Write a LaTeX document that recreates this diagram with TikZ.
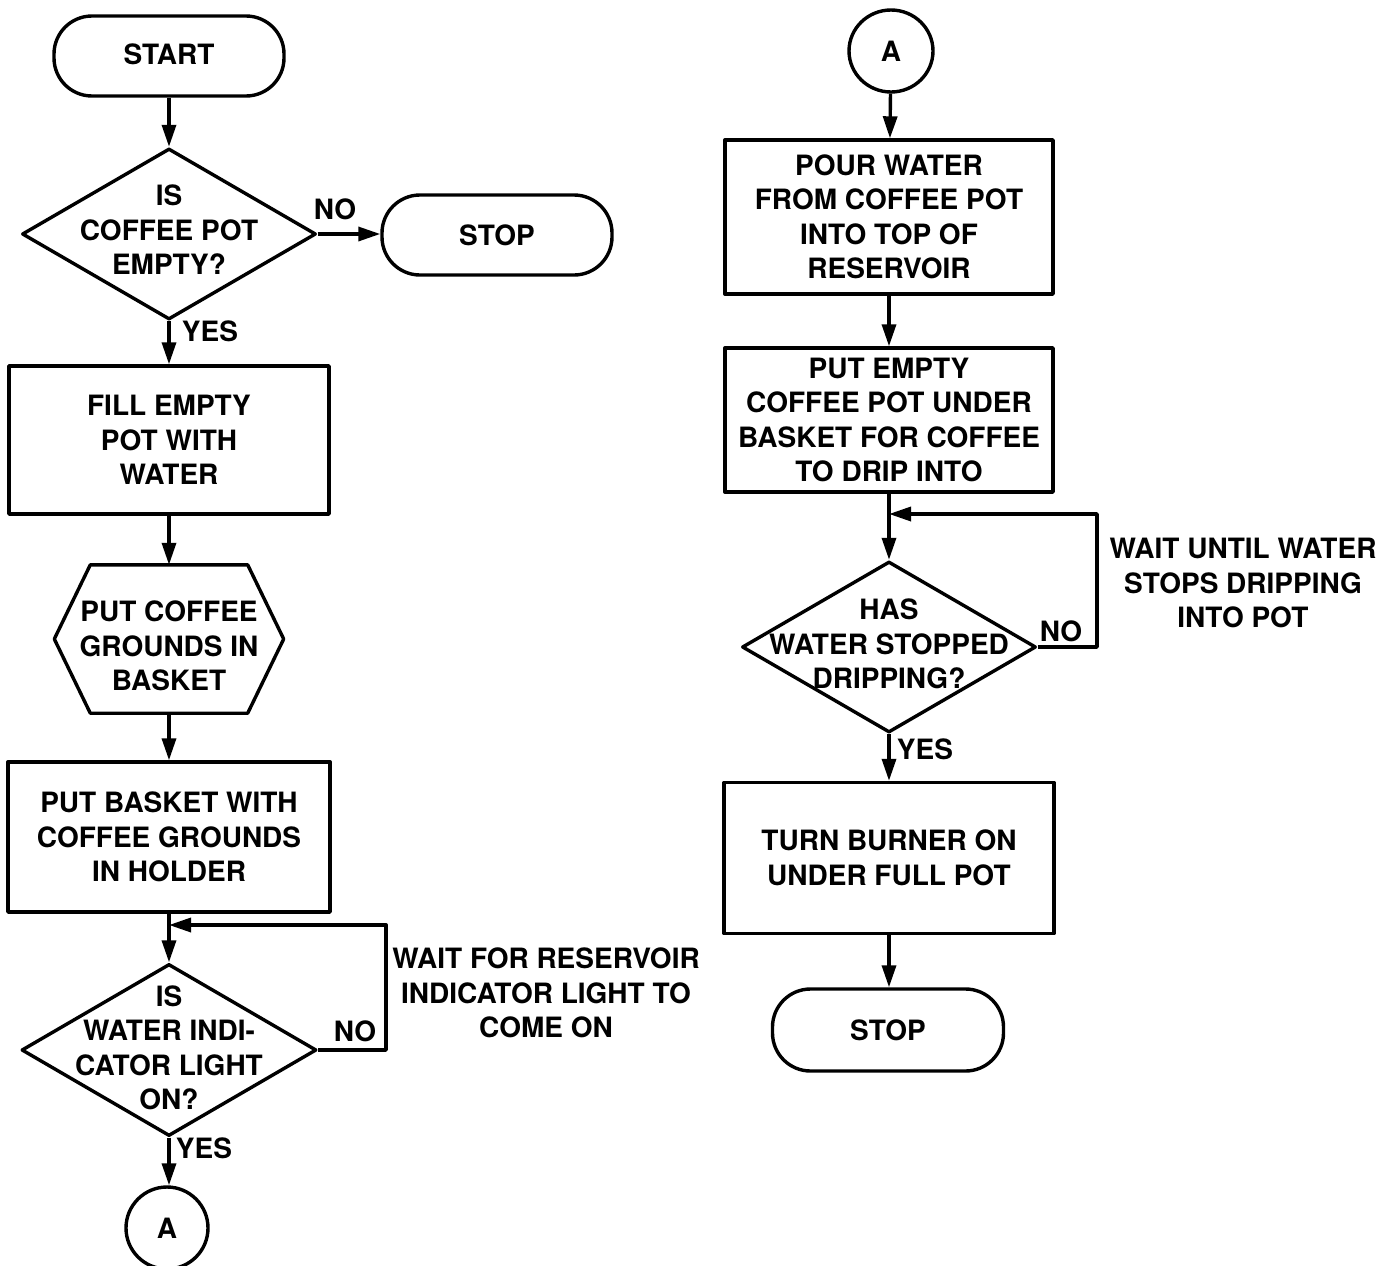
\documentclass[tikz,border=0pt]{standalone}
\usepackage{fontspec}
\setmainfont{TeX Gyre Heros}
\usetikzlibrary{arrows.meta,shapes.geometric,calc}
\begin{document}
\begin{tikzpicture}[x=1pt,y=-1pt,
  every node/.style={font=\fontsize{28}{34.5}\selectfont\bfseries, align=center, inner sep=0pt},
  ln/.style={line width=3.4pt, line join=round},
  arr/.style={ln, -{Triangle[length=22pt,width=14pt]}},
  term/.style={draw, ln, rectangle, rounded corners=38pt, minimum width=230pt, minimum height=80pt},
  procbox/.style={draw, ln, rectangle},
  dia/.style={draw, ln, diamond, minimum width=294pt, minimum height=171pt},
  conn/.style={draw, ln, ellipse, minimum width=82pt, minimum height=82pt}
]
\useasboundingbox (0,0) rectangle (1398,1266);

% ---------- left column ----------
\node[term] (start) at (169,56) {};
\node (startt) at (169,54) {START};
\node[dia] (d1) at (169,234) {};
\node (d1t) at (169,230) {IS\\COFFEE POT\\EMPTY?};
\node[term] (stop1) at (497,235) {STOP};
\node[procbox, minimum width=320pt, minimum height=148pt] (fill) at (169,440) {FILL EMPTY\\POT WITH\\WATER};
\node[minimum width=229pt, minimum height=148pt] (hex) at (169,639) {};
\node (hext) at (169,646) {PUT COFFEE\\GROUNDS IN\\BASKET};
\draw[ln] (hex.west) -- ($(hex.north west)+(36,0)$) -- ($(hex.north east)+(-36,0)$) -- (hex.east)
  -- ($(hex.south east)+(-36,0)$) -- ($(hex.south west)+(36,0)$) -- cycle;
\node[procbox, minimum width=322pt, minimum height=150pt] (basket) at (169,837) {PUT BASKET WITH\\COFFEE GROUNDS\\IN HOLDER};
\node[dia, minimum width=295pt, minimum height=172pt] (d2) at (169,1050) {};
\node (d2t) at (169,1048) {IS\\WATER INDI-\\CATOR LIGHT\\ON?};
\node[conn] (a1) at (167,1228) {A};
\coordinate (c1) at (386,925);

\draw[arr] (start) -- (d1);
\draw[arr] (d1.east) -- (d1.east -| stop1.west);
\draw[arr] (d1) -- (fill);
\draw[arr] (fill) -- (hex.north);
\draw[arr] (hex.south) -- (basket);
\draw[arr] (basket) -- (d2);
\draw[arr] (d2.east) -| (c1) -- (basket.south |- c1);
\draw[arr] (d2.south) -- (d2.south |- a1.north);

\node (no1) at (335,209) {NO};
\node (yes1) at (210,331) {YES};
\node (no2) at (355,1031) {NO};
\node (yes2) at (204,1148) {YES};
\node (w1) at (546,993) {WAIT FOR RESERVOIR\\INDICATOR LIGHT TO\\COME ON};

% ---------- right column ----------
\node[conn, minimum width=84pt, minimum height=82pt] (a2) at (891,51) {A};
\node[procbox, minimum width=328pt, minimum height=154pt] (pour) at (889,217) {POUR WATER\\FROM COFFEE POT\\INTO TOP OF\\RESERVOIR};
\node[procbox, minimum width=328pt, minimum height=144pt] (empty) at (889,420) {PUT EMPTY\\COFFEE POT UNDER\\BASKET FOR COFFEE\\TO DRIP INTO};
\node[dia] (d3) at (889,647) {};
\node (d3t) at (889,644) {HAS\\WATER STOPPED\\DRIPPING?};
\node[procbox, minimum width=330pt, minimum height=151pt] (turn) at (889,858) {TURN BURNER ON\\UNDER FULL POT};
\node[term, minimum width=231pt, minimum height=82pt] (stop2) at (888,1030) {STOP};
\coordinate (c2) at (1097,514);

\draw[arr] (a2) -- (pour);
\draw[arr] (pour) -- (empty);
\draw[arr] (empty) -- (d3);
\draw[arr] (d3.east) -| (c2) -- (empty.south |- c2);
\draw[arr] (d3) -- (turn);
\draw[arr] (turn) -- (turn.south |- stop2.north);

\node (no3) at (1061,631) {NO};
\node (yes3) at (925,749) {YES};
\node (w2) at (1243,583) {WAIT UNTIL WATER\\STOPS DRIPPING\\INTO POT};
\end{tikzpicture}
\end{document}
